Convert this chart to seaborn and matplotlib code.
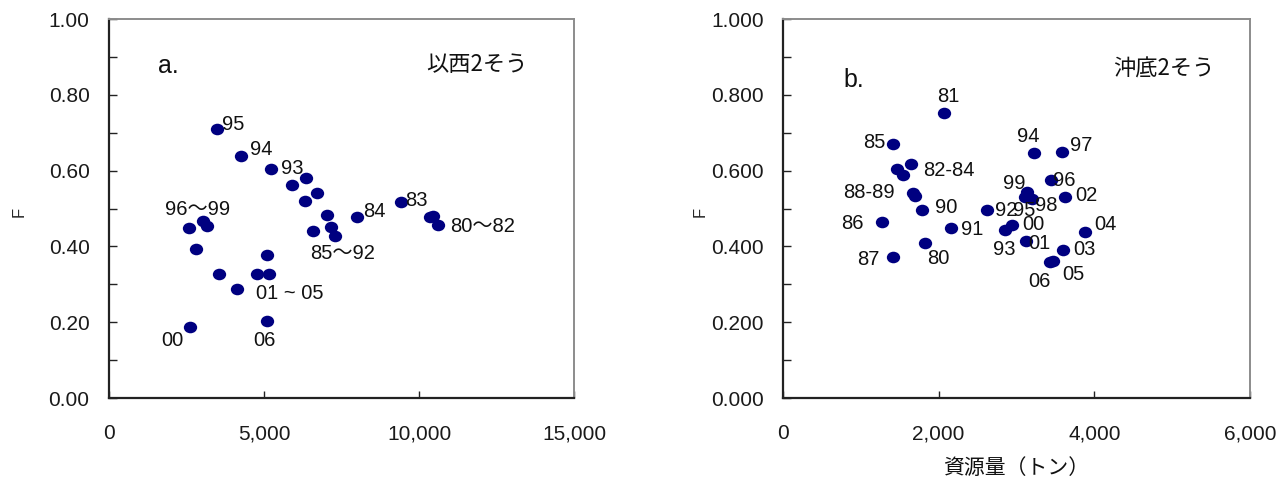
import matplotlib
matplotlib.use("Agg")
import matplotlib.pyplot as plt
from matplotlib.path import Path
from matplotlib.markers import MarkerStyle
from matplotlib.transforms import Affine2D
from matplotlib.ticker import MultipleLocator, FuncFormatter
import seaborn as sns
import pandas as pd

# ---- a. 以西2そう : biomass (t) vs F, 1980-2006 ----
years_a = ["80", "81", "82", "83", "84", "85", "86", "87", "88", "89", "90", "91",
           "92", "93", "94", "95", "96", "97", "98", "99", "00", "01", "02", "03",
           "04", "05", "06"]
biomass_a = [10355, 10462, 10603, 9419, 7990, 7300, 7161, 6570, 7022, 6333, 6700, 6365,
             5913, 5236, 4248, 3474, 2570, 3043, 3151, 2796, 2613, 3538, 4118, 4763,
             5150, 5108, 5086]
f_a = [0.477, 0.480, 0.456, 0.518, 0.478, 0.427, 0.452, 0.441, 0.483, 0.520, 0.542, 0.580,
       0.562, 0.603, 0.638, 0.709, 0.449, 0.468, 0.454, 0.392, 0.187, 0.326, 0.288, 0.326,
       0.327, 0.377, 0.204]

# ---- b. 沖底2そう : biomass (t) vs F, 1980-2006 ----
years_b = ["80", "81", "82", "83", "84", "85", "86", "87", "88", "89", "90", "91",
           "92", "93", "94", "95", "96", "97", "98", "99", "00", "01", "02", "03",
           "04", "05", "06"]
biomass_b = [1825, 2069, 1645, 1470, 1538, 1418, 1268, 1410, 1675, 1693, 1787, 2164,
             2626, 2857, 3230, 3111, 3445, 3586, 3205, 3132, 2939, 3119, 3625, 3603,
             3882, 3470, 3430]
f_b = [0.410, 0.751, 0.617, 0.603, 0.588, 0.670, 0.465, 0.371, 0.540, 0.533, 0.497, 0.449,
       0.495, 0.443, 0.646, 0.531, 0.575, 0.648, 0.524, 0.544, 0.456, 0.414, 0.531, 0.391,
       0.439, 0.362, 0.358]

# year labels: (text, year of the point it sits beside, dx px, dy px, ha)
labels_a = [
    ("95", "95", 5, 4.5, "left"),
    ("94", "94", 9, 6.5, "left"),
    ("93", "93", 10, 0.7, "left"),
    ("96～99", "96", 8.8, 18, "center"),
    ("84", "84", 6, 5.7, "left"),
    ("83", "83", 4, 1, "left"),
    ("80～82", "82", 12, -1.4, "left"),
    ("85～92", "85", 6.9, -17.3, "center"),
    ("01 ~ 05", "04", 21.3, -19.3, "center"),
    ("06", "06", -2.7, -20, "center"),
    ("00", "00", -17.7, -13.5, "center"),
]
labels_b = [
    ("81", "81", 4.7, 16.6, "center"),
    ("85", "85", -8.3, 1.2, "right"),
    ("82-84", "82", 11.7, -6.5, "left"),
    ("88-89", "88", -18.3, 0.8, "right"),
    ("90", "90", 13, 2.2, "left"),
    ("86", "86", -17.7, -2.1, "right"),
    ("91", "91", 9.4, -1.8, "left"),
    ("80", "80", 13, -16, "center"),
    ("87", "87", -13.7, -1.9, "right"),
    ("92", "92", 7.7, 0.3, "left"),
    ("95", "95", -11.7, -13.3, "left"),
    ("98", "98", 2.7, -6.5, "left"),
    ("99", "99", -1.7, 7.9, "right"),
    ("00", "00", 11, 0.3, "left"),
    ("93", "93", -1.3, -19.5, "center"),
    ("01", "01", 2.6, -2.3, "left"),
    ("94", "94", -6.5, 16.6, "center"),
    ("97", "97", 8, 7.3, "left"),
    ("96", "96", 2.3, 0, "left"),
    ("02", "02", 10, 1.7, "left"),
    ("04", "04", 9, 6.7, "left"),
    ("03", "03", 9.4, 0, "left"),
    ("05", "05", 20, -13.9, "center"),
    ("06", "06", -10.6, -19, "center"),
]

sns.set_style("white")
plt.rcParams["font.family"] = ["Liberation Sans", "Noto Sans CJK JP"]

NUM_FONT = ["Liberation Sans", "Noto Sans CJK JP"]
JP_FONT = ["Noto Sans CJK JP", "Liberation Sans"]
DOT = "#000080"

# slightly wide round dot
dot_path = Path.unit_circle().transformed(Affine2D().scale(1.15, 1.0))
dot_marker = MarkerStyle(dot_path)

fig = plt.figure(figsize=(12.81, 4.88), dpi=100)
ax_a = fig.add_axes([0.0851, 0.1844, 0.3630, 0.7766])
ax_b = fig.add_axes([0.6112, 0.1844, 0.3646, 0.7766])


def draw_panel(ax, years, xs, fs, labels, xmax, xstep, ydec, tag, title,
               tag_xy, title_xy, title_ha, ylab_x):
    df = pd.DataFrame({"year": years, "biomass": xs, "F": fs})
    sns.scatterplot(data=df, x="biomass", y="F", ax=ax, color=DOT,
                    marker=dot_marker, s=92, linewidth=0, legend=False, zorder=3)
    ax.set_xlim(0, xmax)
    ax.set_ylim(0, 1.0)
    ax.xaxis.set_major_locator(MultipleLocator(xstep))
    ax.yaxis.set_major_locator(MultipleLocator(0.2))
    ax.yaxis.set_minor_locator(MultipleLocator(0.1))
    ax.xaxis.set_major_formatter(FuncFormatter(lambda v, p: f"{int(round(v)):,}"))
    ax.yaxis.set_major_formatter(FuncFormatter(lambda v, p: f"{v:.{ydec}f}"))
    ax.tick_params(axis="both", which="both", direction="in", color="#222222",
                   width=1.0, bottom=True, left=True, top=False, right=False)
    ax.tick_params(axis="y", which="major", length=6, pad=14, labelsize=15)
    ax.tick_params(axis="y", which="minor", length=6)
    ax.tick_params(axis="x", which="major", length=5, pad=19, labelsize=15)
    for lab in ax.get_xticklabels() + ax.get_yticklabels():
        lab.set_family(NUM_FONT)
        lab.set_color("#1a1a1a")
    for side in ("left", "bottom"):
        ax.spines[side].set_color("#222222")
        ax.spines[side].set_linewidth(1.6)
    for side in ("top", "right"):
        ax.spines[side].set_color("#8c8c8c")
        ax.spines[side].set_linewidth(1.4)
    ax.set_ylabel("F", fontsize=12, family=NUM_FONT)
    ax.yaxis.set_label_coords(ylab_x, 0.49)
    ax.set_xlabel("")

    pos = {y: (x, f) for y, x, f in zip(years, xs, fs)}
    for text, yr, dx, dy, ha in labels:
        ax.annotate(text, xy=pos[yr], xytext=(dx, dy), textcoords="offset pixels",
                    ha=ha, va="center", fontsize=14.5, family=NUM_FONT,
                    color="#111111", zorder=4)

    ax.text(tag_xy[0], tag_xy[1], tag, transform=ax.transAxes, fontsize=18,
            family=NUM_FONT, ha="left", va="baseline", color="#111111")
    ax.text(title_xy[0], title_xy[1], title, transform=ax.transAxes, fontsize=16,
            family=JP_FONT, ha=title_ha, va="center", color="#111111")


draw_panel(ax_a, years_a, biomass_a, f_a, labels_a, 15000, 5000, 2, "a.", "以西2そう",
           (0.106, 0.858), (0.683, 0.881), "left", -0.178)
draw_panel(ax_b, years_b, biomass_b, f_b, labels_b, 6000, 2000, 3, "b.", "沖底2そう",
           (0.129, 0.821), (0.925, 0.868), "right", -0.161)

ax_b.set_xlabel("資源量（トン）", fontsize=15, family=JP_FONT, color="#111111", va="center")
ax_b.xaxis.set_label_coords(0.5, -0.185)

fig.savefig("out.png", dpi=100)
